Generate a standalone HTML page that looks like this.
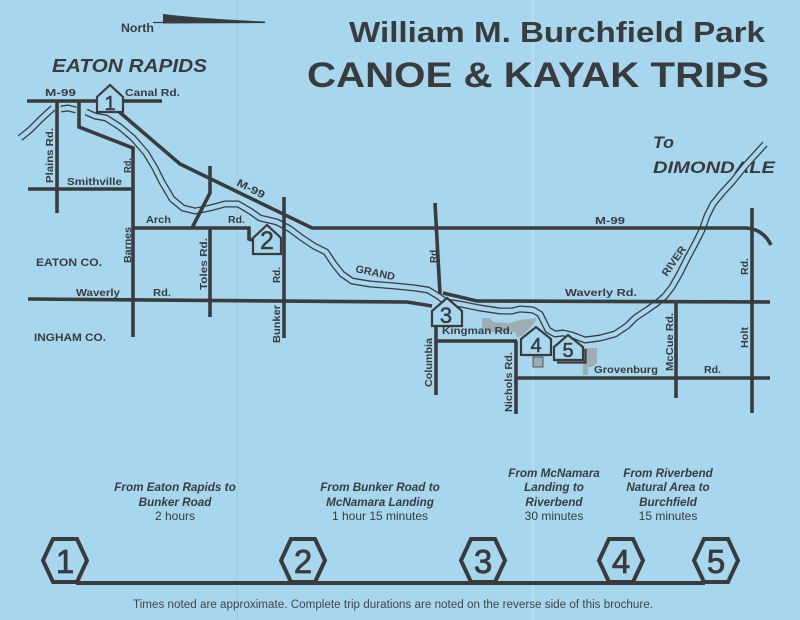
<!DOCTYPE html>
<html><head><meta charset="utf-8"><style>
html,body{margin:0;padding:0;background:#a7d7ee;}
svg{display:block}
text{font-family:"Liberation Sans",Arial,sans-serif;fill:#3a3b3d}
.r{font-weight:bold;font-size:10.5px}
.t{font-weight:bold;font-style:italic;font-size:11.7px}
.n{font-size:12px}
</style></head><body>
<svg width="800" height="620" viewBox="0 0 800 620" xmlns="http://www.w3.org/2000/svg">
<rect width="800" height="620" fill="#a7d7ee"/>
<line x1="237" y1="0" x2="237" y2="620" stroke="#98c7df" stroke-width="1"/>
<line x1="533" y1="0" x2="533" y2="620" stroke="#bde3f5" stroke-width="1.2"/>

<!-- Title -->
<text x="349" y="42" font-size="29" font-weight="bold" textLength="416" lengthAdjust="spacingAndGlyphs">William M. Burchfield Park</text>
<text x="307" y="87" font-size="35" font-weight="bold" textLength="462" lengthAdjust="spacingAndGlyphs">CANOE &amp; KAYAK TRIPS</text>

<!-- North arrow -->
<text x="121" y="32" font-size="12" font-weight="bold" textLength="33" lengthAdjust="spacingAndGlyphs">North</text>
<line x1="153" y1="22.5" x2="265" y2="22.5" stroke="#3a3b3d" stroke-width="1.3"/>
<path d="M163,14 Q205,19 265,21.5 L265,23 L163,23.5 Z" fill="#3a3b3d"/>

<text x="52" y="72" font-size="18" font-weight="bold" font-style="italic" textLength="155" lengthAdjust="spacingAndGlyphs">EATON RAPIDS</text>
<text x="653" y="148" font-size="17" font-weight="bold" font-style="italic" textLength="21" lengthAdjust="spacingAndGlyphs">To</text>
<text x="653" y="173" font-size="17" font-weight="bold" font-style="italic" textLength="122" lengthAdjust="spacingAndGlyphs">DIMONDALE</text>

<!-- River -->
<g fill="none" stroke-linejoin="round" stroke-linecap="butt">
<polyline stroke="#3a3b3d" stroke-width="7" points="86,112 95,116 106,118 120,127 133,138 146,153 155,168 162,182 172,199 183,208 195,211 210,208 225,204 238,204 250,211 260,218 277,222 290,229 302,238 314,246 326,252 334,264 342,274 352,281 370,284 395,286 415,288 428,290 438,296 446,302 460,304 480,308 500,311 512,311 520,309 533,310 540,314 544,322 548,330 555,334 563,333 572,335 585,340 600,338 615,334 627,326 635,318 647,310 657,303 665,296 672,287 680,273 688,257 696,242 702,230 707,216 713,204 722,193 733,181 745,166 765,144"/>
<polyline stroke="#a7d7ee" stroke-width="4.4" points="86,112 95,116 106,118 120,127 133,138 146,153 155,168 162,182 172,199 183,208 195,211 210,208 225,204 238,204 250,211 260,218 277,222 290,229 302,238 314,246 326,252 334,264 342,274 352,281 370,284 395,286 415,288 428,290 438,296 446,302 460,304 480,308 500,311 512,311 520,309 533,310 540,314 544,322 548,330 555,334 563,333 572,335 585,340 600,338 615,334 627,326 635,318 647,310 657,303 665,296 672,287 680,273 688,257 696,242 702,230 707,216 713,204 722,193 733,181 745,166 765,144"/>
<polyline stroke="#3a3b3d" stroke-width="7" points="20,138 30,130 42,118 53,108"/>
<polyline stroke="#a7d7ee" stroke-width="4.4" points="20,138 30,130 42,118 53,108"/>
<polyline stroke="#3a3b3d" stroke-width="7" points="61,109 68,108 76,110"/>
<polyline stroke="#a7d7ee" stroke-width="4.4" points="61,109 68,108 76,110"/>
</g>

<!-- gray areas -->
<polygon points="482,318 490,318 493,322 510,323 520,320 537,318 533,325 523,335 517,338 515,332 490,332 482,329" fill="#9eadb4"/>
<polygon points="583,348 597,348 597,363 592,367 588,367 588,375 583,375" fill="#9eadb4"/>
<rect x="533" y="357" width="10" height="10" fill="#9eadb4" stroke="#3a3b3d" stroke-width="0.8"/>

<!-- Roads -->
<g fill="none" stroke="#3a3b3d" stroke-width="3.6" stroke-linejoin="miter">
<polyline points="27,101 162,101"/>
<polyline points="57,101 57,213"/>
<polyline points="79,101 79,127 133,148 133,337"/>
<polyline points="28,189 133,189"/>
<path d="M117,110 L180,164 L312,228 L746,228 Q763,229 771,245"/>
<polyline points="210,166 210,193 192,228"/>
<polyline points="210,228 210,317"/>
<polyline points="133,228 249,228 249,239 255,241"/>
<polyline points="28,299 407,302 432,306"/>
<polyline points="443,293 477,301 770,302"/>
<polyline points="284,197 284,338"/>
<polyline points="435,203 440,294"/>
<polyline points="436,326 436,395"/>
<polyline points="436,341 517,341"/>
<polyline points="516,341 516,414"/>
<polyline points="517,378 770,378"/>
<polyline points="676,302 676,398"/>
<polyline points="752,208 752,413"/>
</g>

<!-- Markers -->
<g fill="#a7d7ee" stroke="#3a3b3d" stroke-width="2.2" stroke-linejoin="miter">
<polygon points="97,112 97,97 110,85 123,97 123,112"/>
<polygon points="253,254 253,238 267,225 281,238 281,254"/>
<polygon points="432,326 432,311 447,298 462,311 462,326"/>
<polygon points="521,355 521,339 536,327 551,339 551,355"/>
<polygon points="554,360 554,347 568,335 583,347 583,360"/>
</g>
<polyline points="557,362.5 585.5,362.5 585.5,349" fill="none" stroke="#3a3b3d" stroke-width="2.2"/>
<g text-anchor="middle" stroke="#3a3b3d" stroke-width="0.5">
<text x="110" y="110" font-size="20">1</text>
<text x="267" y="249" font-size="25">2</text>
<text x="446" y="323" font-size="22">3</text>
<text x="536" y="352" font-size="20">4</text>
<text x="568" y="357" font-size="20">5</text>
</g>

<!-- Road labels -->
<text class="r" x="45" y="96" textLength="31" lengthAdjust="spacingAndGlyphs">M-99</text>
<text class="r" x="125" y="96" textLength="55" lengthAdjust="spacingAndGlyphs">Canal Rd.</text>
<text class="r" transform="translate(53,183) rotate(-90)" textLength="55" lengthAdjust="spacingAndGlyphs">Plains Rd.</text>
<text class="r" transform="translate(131,173) rotate(-90)" textLength="15" lengthAdjust="spacingAndGlyphs">Rd.</text>
<text class="r" x="67" y="185" textLength="55" lengthAdjust="spacingAndGlyphs">Smithville</text>
<text class="r" x="146" y="223" textLength="25" lengthAdjust="spacingAndGlyphs">Arch</text>
<text class="r" x="228" y="223" textLength="17" lengthAdjust="spacingAndGlyphs">Rd.</text>
<text class="r" transform="translate(131,263) rotate(-90)" textLength="36" lengthAdjust="spacingAndGlyphs">Barnes</text>
<text class="r" transform="translate(207,290) rotate(-90)" textLength="52" lengthAdjust="spacingAndGlyphs">Toles Rd.</text>
<text x="36" y="266" font-size="11" font-weight="bold" textLength="66" lengthAdjust="spacingAndGlyphs">EATON CO.</text>
<text x="34" y="341" font-size="11" font-weight="bold" textLength="72" lengthAdjust="spacingAndGlyphs">INGHAM CO.</text>
<text class="r" x="76" y="296" textLength="44" lengthAdjust="spacingAndGlyphs">Waverly</text>
<text class="r" x="153" y="296" textLength="18" lengthAdjust="spacingAndGlyphs">Rd.</text>
<text class="r" transform="translate(280,343) rotate(-90)" textLength="38" lengthAdjust="spacingAndGlyphs">Bunker</text>
<text class="r" transform="translate(280,283) rotate(-90)" textLength="16" lengthAdjust="spacingAndGlyphs">Rd.</text>
<text class="r" transform="translate(236,185) rotate(27)" textLength="30" lengthAdjust="spacingAndGlyphs">M-99</text>
<text class="r" transform="translate(355,272) rotate(12)" textLength="40" lengthAdjust="spacingAndGlyphs">GRAND</text>
<text class="r" transform="translate(437,263) rotate(-90)" textLength="16" lengthAdjust="spacingAndGlyphs">Rd.</text>
<text class="r" transform="translate(432,387) rotate(-90)" textLength="49" lengthAdjust="spacingAndGlyphs">Columbia</text>
<text class="r" x="442" y="334" textLength="71" lengthAdjust="spacingAndGlyphs">Kingman Rd.</text>
<text class="r" transform="translate(512,412) rotate(-90)" textLength="60" lengthAdjust="spacingAndGlyphs">Nichols Rd.</text>
<text class="r" x="595" y="224" textLength="30" lengthAdjust="spacingAndGlyphs">M-99</text>
<text class="r" x="565" y="296" textLength="72" lengthAdjust="spacingAndGlyphs">Waverly Rd.</text>
<text class="r" transform="translate(667,277) rotate(-55)" textLength="34" lengthAdjust="spacingAndGlyphs">RIVER</text>
<text class="r" x="594" y="373" textLength="64" lengthAdjust="spacingAndGlyphs">Grovenburg</text>
<text class="r" x="704" y="373" textLength="17" lengthAdjust="spacingAndGlyphs">Rd.</text>
<text class="r" transform="translate(673,371) rotate(-90)" textLength="58" lengthAdjust="spacingAndGlyphs">McCue Rd.</text>
<text class="r" transform="translate(748,275) rotate(-90)" textLength="17" lengthAdjust="spacingAndGlyphs">Rd.</text>
<text class="r" transform="translate(748,348) rotate(-90)" textLength="21" lengthAdjust="spacingAndGlyphs">Holt</text>

<!-- Trip labels -->
<g text-anchor="middle">
<text class="t" x="175" y="491">From Eaton Rapids to</text>
<text class="t" x="175" y="506">Bunker Road</text>
<text class="n" x="175" y="520">2 hours</text>
<text class="t" x="380" y="491">From Bunker Road to</text>
<text class="t" x="380" y="506">McNamara Landing</text>
<text class="n" x="380" y="520">1 hour 15 minutes</text>
<text class="t" x="554" y="477">From McNamara</text>
<text class="t" x="554" y="491">Landing to</text>
<text class="t" x="554" y="506">Riverbend</text>
<text class="n" x="554" y="520">30 minutes</text>
<text class="t" x="668" y="477">From Riverbend</text>
<text class="t" x="668" y="491">Natural Area to</text>
<text class="t" x="668" y="506">Burchfield</text>
<text class="n" x="668" y="520">15 minutes</text>
</g>

<!-- Timeline -->
<line x1="76" y1="583" x2="705" y2="583" stroke="#3a3b3d" stroke-width="4"/>
<g fill="#a7d7ee" stroke="#3a3b3d" stroke-width="4" stroke-linejoin="miter">
<polygon points="43,560.5 53,539 77,539 87,560.5 77,582 53,582"/>
<polygon points="281,560.5 291,539 315,539 325,560.5 315,582 291,582"/>
<polygon points="461,560.5 471,539 495,539 505,560.5 495,582 471,582"/>
<polygon points="599,560.5 609,539 633,539 643,560.5 633,582 609,582"/>
<polygon points="694,560.5 704,539 728,539 738,560.5 728,582 704,582"/>
</g>
<g text-anchor="middle" font-size="33" stroke="#3a3b3d" stroke-width="0.8">
<text x="65" y="573">1</text>
<text x="303" y="573">2</text>
<text x="483" y="573">3</text>
<text x="621" y="573">4</text>
<text x="716" y="573">5</text>
</g>

<text x="133" y="608" font-size="11.5" style="fill:#444" textLength="520" lengthAdjust="spacingAndGlyphs">Times noted are approximate. Complete trip durations are noted on the reverse side of this brochure.</text>
</svg>
</body></html>
